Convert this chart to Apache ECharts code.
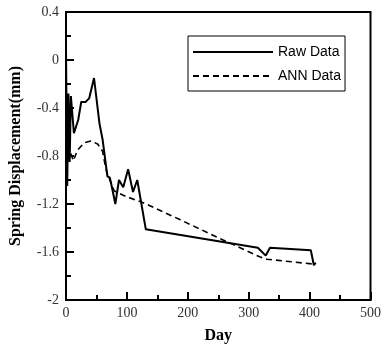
<!DOCTYPE html>
<html><head><meta charset="utf-8">
<script src="https://cdn.jsdelivr.net/npm/echarts@6/dist/echarts.min.js"></script>
<style>html,body{margin:0;padding:0;background:#fff}#c{width:384px;height:349px}</style>
</head><body><div id="c"></div>
<script>
var rawDays = [0, 2, 4, 6, 8, 13, 20, 25, 32, 38, 46, 55, 60, 68, 72, 75, 81, 87, 94, 102, 110, 117, 131, 315, 328, 335, 402, 404, 407, 410];
var rawVals = [0.09, -1.05, -0.28, -0.85, -0.3, -0.61, -0.5, -0.35, -0.35, -0.32, -0.15, -0.53, -0.66, -0.97, -0.98, -1.05, -1.2, -1.0, -1.06, -0.91, -1.1, -1.0, -1.41, -1.565, -1.63, -1.565, -1.585, -1.6, -1.71, -1.69];
var annDays = [8, 12, 19, 30, 41, 52, 60, 65, 68, 79, 87, 100, 122, 136, 187, 258, 318, 330, 405, 410];
var annVals = [-0.78, -0.84, -0.75, -0.69, -0.675, -0.70, -0.76, -0.895, -0.95, -1.09, -1.11, -1.14, -1.18, -1.21, -1.33, -1.50, -1.64, -1.66, -1.70, -1.69];
var xTicks = [0, 100, 200, 300, 400, 500];
var yTicks = [-2, -1.6, -1.2, -0.8, -0.4, 0, 0.4];

function pairs(a, b) { return a.map(function (v, i) { return [v, b[i]]; }); }
var chart = echarts.init(document.getElementById('c'), null, {renderer: 'canvas'});
var serif = 'Liberation Serif';
chart.setOption({
  animation: false,
  backgroundColor: '#fff',
  grid: {left: 65, right: 12, top: 12, bottom: 45, show: true, borderColor: '#000', borderWidth: 2},
  legend: {
    left: 188, top: 36, orient: 'vertical', itemWidth: 80, itemHeight: 10, itemGap: 10,
    padding: [9, 4, 8, 4], borderColor: '#000', borderWidth: 1, backgroundColor: '#fff',
    itemStyle: {opacity: 0, borderWidth: 0},
    textStyle: {fontFamily: 'Liberation Sans', fontSize: 14, color: '#000', padding: [0, 0, 0, 0]},
    data: ['Raw Data', 'ANN Data']
  },
  xAxis: {
    type: 'value', min: xTicks[0], max: xTicks[xTicks.length - 1], interval: 100,
    name: 'Day', nameLocation: 'middle', nameGap: 28,
    nameTextStyle: {fontFamily: serif, fontWeight: 'bold', fontSize: 16, color: '#000'},
    axisLine: {show: true, onZero: false, lineStyle: {color: '#000', width: 2}},
    axisTick: {show: true, inside: true, length: 8, lineStyle: {color: '#000', width: 2}},
    minorTick: {show: true, splitNumber: 2, length: 5, lineStyle: {color: '#000', width: 2}},
    splitLine: {show: false},
    axisLabel: {fontFamily: serif, fontSize: 14, color: '#333', margin: 6}
  },
  yAxis: {
    type: 'value', min: yTicks[0], max: yTicks[yTicks.length - 1], interval: 0.4,
    name: 'Spring Displacement(mm)', nameLocation: 'middle', nameGap: 42,
    nameTextStyle: {fontFamily: serif, fontWeight: 'bold', fontSize: 16, color: '#000'},
    axisLine: {show: true, onZero: false, lineStyle: {color: '#000', width: 2}},
    axisTick: {show: true, inside: true, length: 8, lineStyle: {color: '#000', width: 2}},
    minorTick: {show: true, splitNumber: 2, length: 5, lineStyle: {color: '#000', width: 2}},
    splitLine: {show: false},
    axisLabel: {fontFamily: serif, fontSize: 14, color: '#333', margin: 7,
      formatter: function (v) { return String(Math.round(v * 10) / 10); }}
  },
  series: [
    {name: 'Raw Data', type: 'line', data: pairs(rawDays, rawVals), symbol: 'none',
     lineStyle: {color: '#000', width: 2, type: 'solid'}, itemStyle: {color: '#000'}},
    {name: 'ANN Data', type: 'line', data: pairs(annDays, annVals), symbol: 'none', smooth: false,
     lineStyle: {color: '#000', width: 1.6, type: [6, 4]}, itemStyle: {color: '#000'}}
  ]
});
</script></body></html>
